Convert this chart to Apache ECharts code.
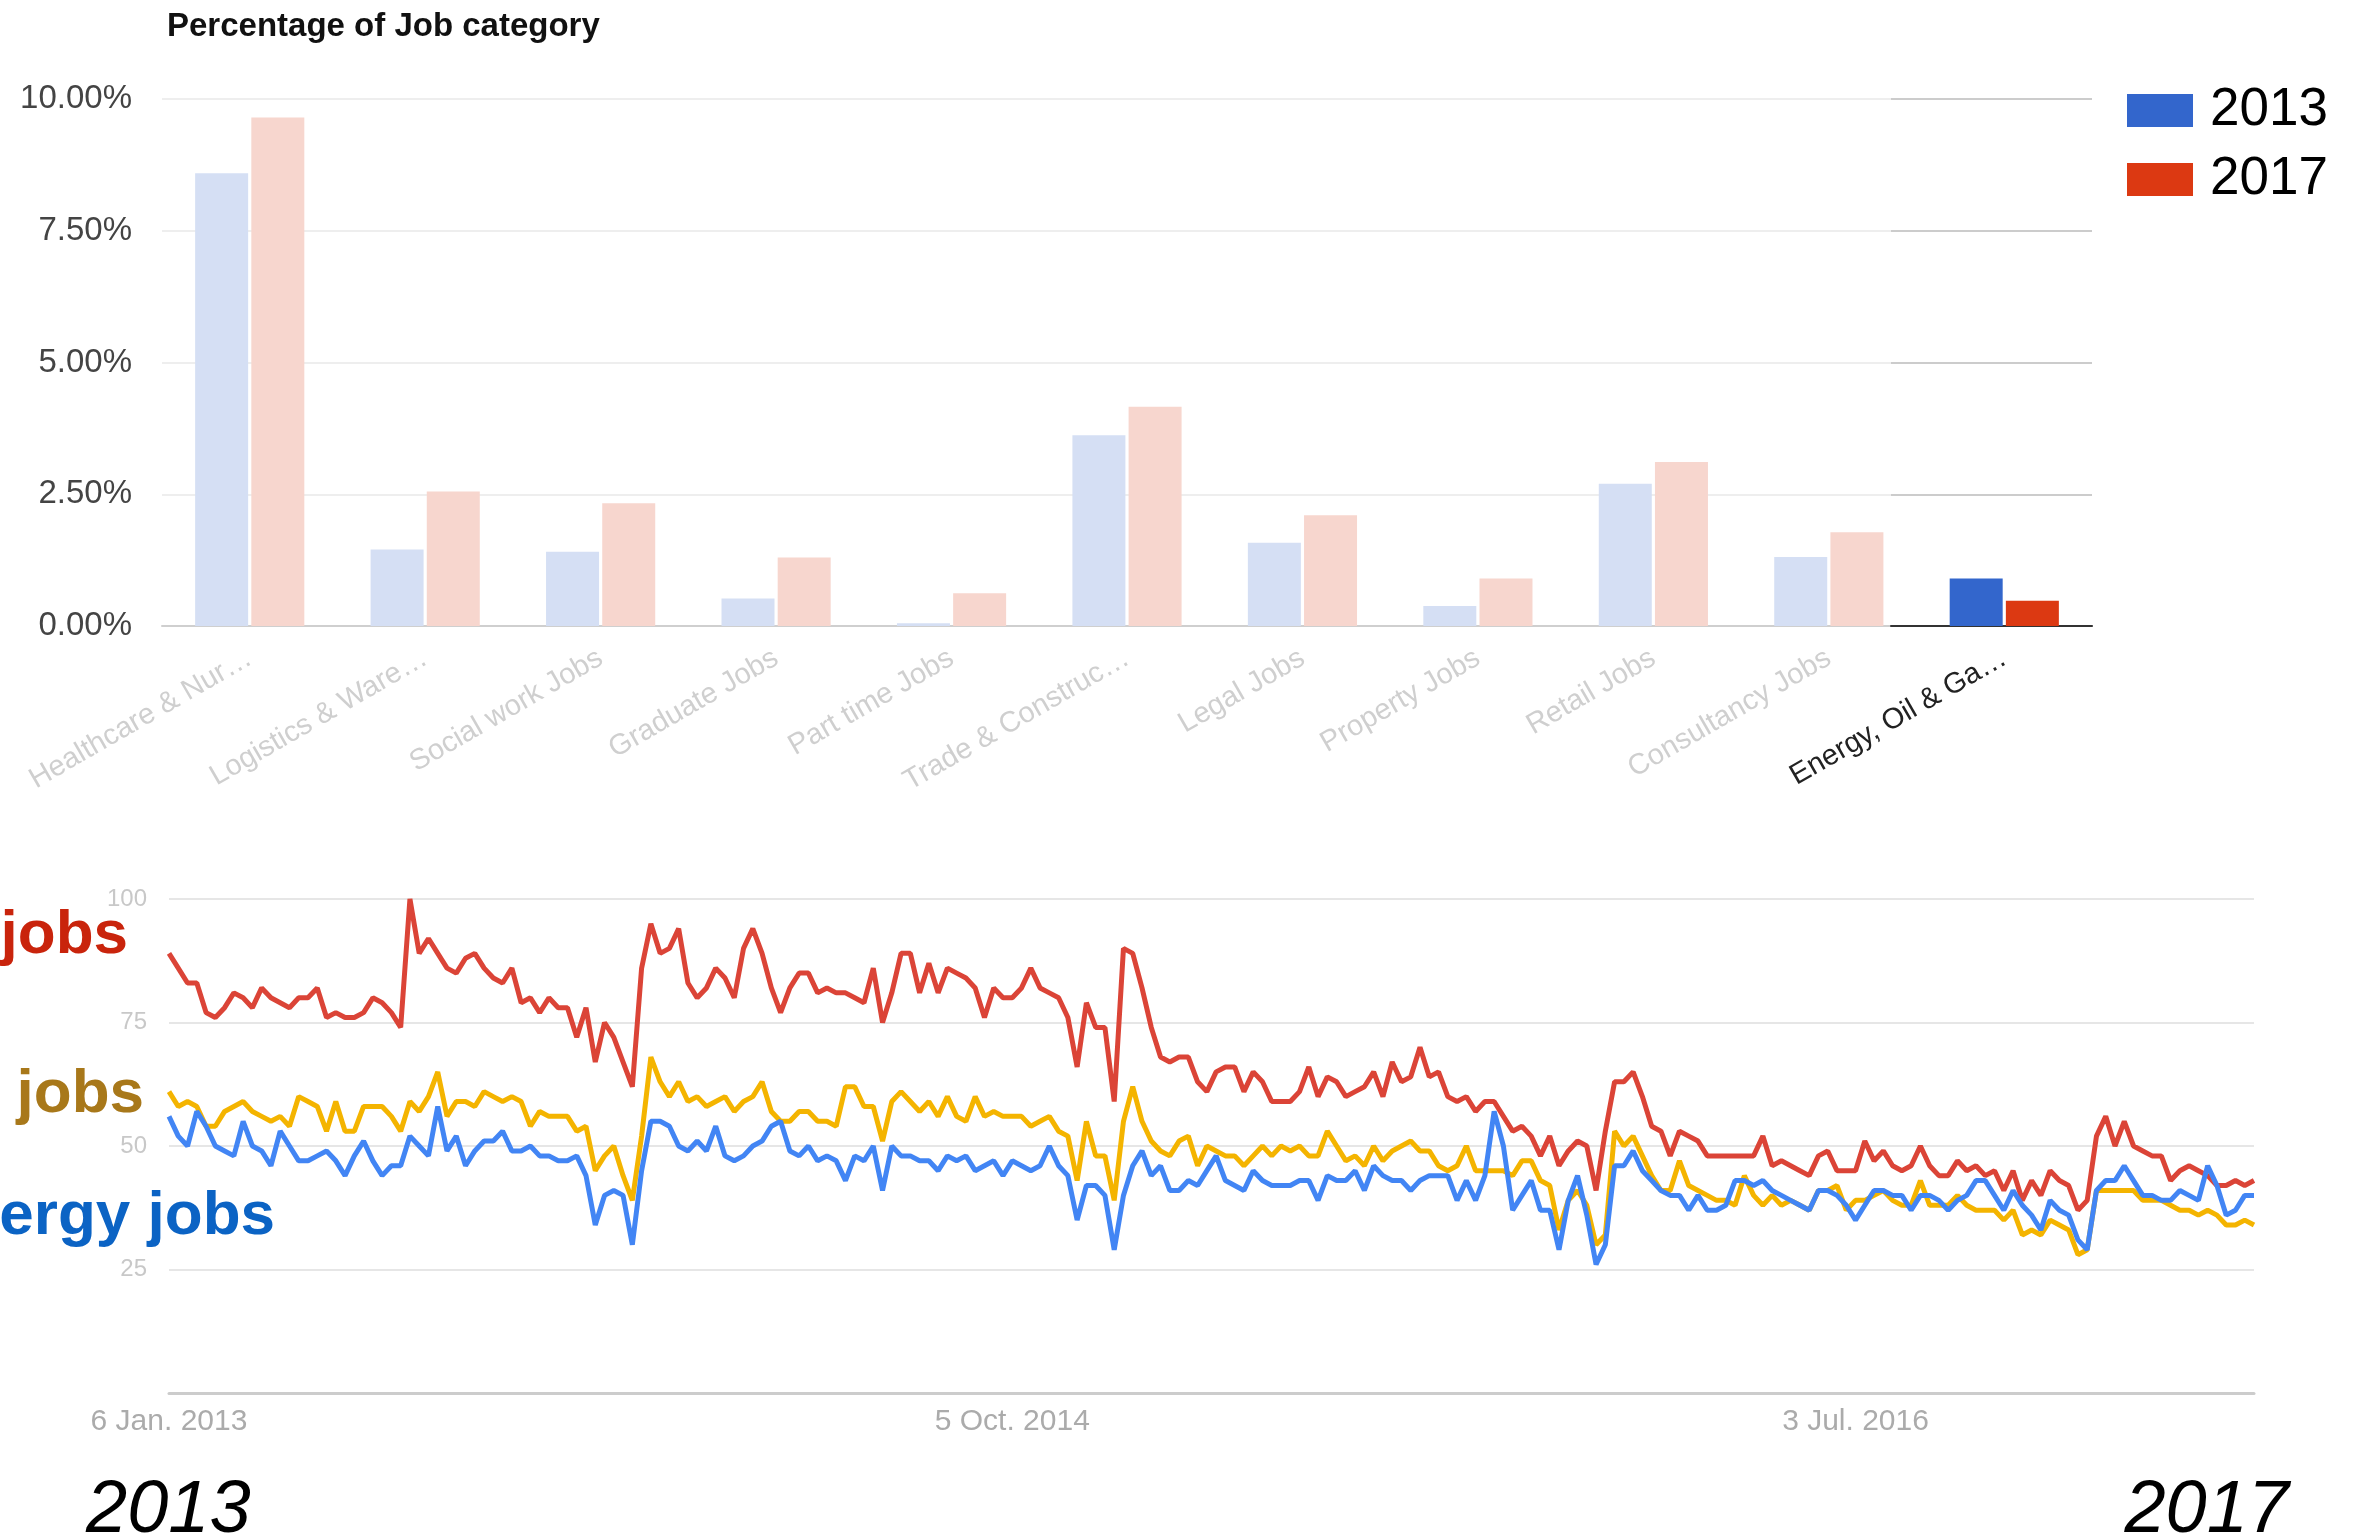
<!DOCTYPE html>
<html>
<head>
<meta charset="utf-8">
<title>Job categories</title>
<script src="https://cdn.jsdelivr.net/npm/echarts@6/dist/echarts.min.js"></script>
<style>
  html, body { margin: 0; padding: 0; background: #fff; }
  #chart { width: 2358px; height: 1533px; }
</style>
</head>
<body>
<div id="chart"></div>
<script>
// --- bar chart data (percent of job category) ---
const categories = ['Healthcare & Nur…', 'Logistics & Ware…', 'Social work Jobs', 'Graduate Jobs',
  'Part time Jobs', 'Trade & Construc…', 'Legal Jobs', 'Property Jobs', 'Retail Jobs',
  'Consultancy Jobs', 'Energy, Oil & Ga…']
const share2013 = [8.59, 1.45, 1.41, 0.52, 0.05, 3.62, 1.58, 0.38, 2.70, 1.31, 0.90]
const share2017 = [9.65, 2.55, 2.33, 1.30, 0.62, 4.16, 2.10, 0.90, 3.11, 1.78, 0.48]
const focusIndex = 10

// --- weekly search interest, from 6 Jan 2013 ---
const trendStart = '2013-01-06'
const tickLabels = { 0: '6 Jan. 2013', 91: '5 Oct. 2014', 182: '3 Jul. 2016' }

const redJobs = [
  89, 86, 83, 83, 77, 76, 78, 81, 80, 78,
  82, 80, 79, 78, 80, 80, 82, 76, 77, 76,
  76, 77, 80, 79, 77, 74, 100, 89, 92, 89,
  86, 85, 88, 89, 86, 84, 83, 86, 79, 80,
  77, 80, 78, 78, 72, 78, 67, 75, 72, 67,
  62, 86, 95, 89, 90, 94, 83, 80, 82, 86,
  84, 80, 90, 94, 89, 82, 77, 82, 85, 85,
  81, 82, 81, 81, 80, 79, 86, 75, 81, 89,
  89, 81, 87, 81, 86, 85, 84, 82, 76, 82,
  80, 80, 82, 86, 82, 81, 80, 76, 66, 79,
  74, 74, 59, 90, 89, 82, 74, 68, 67, 68,
  68, 63, 61, 65, 66, 66, 61, 65, 63, 59,
  59, 59, 61, 66, 60, 64, 63, 60, 61, 62,
  65, 60, 67, 63, 64, 70, 64, 65, 60, 59,
  60, 57, 59, 59, 56, 53, 54, 52, 48, 52,
  46, 49, 51, 50, 41, 53, 63, 63, 65, 60,
  54, 53, 48, 53, 52, 51, 48, 48, 48, 48,
  48, 48, 52, 46, 47, 46, 45, 44, 48, 49,
  45, 45, 45, 51, 47, 49, 46, 45, 46, 50,
  46, 44, 44, 47, 45, 46, 44, 45, 41, 45,
  39, 43, 40, 45, 43, 42, 37, 39, 52, 56,
  50, 55, 50, 49, 48, 48, 43, 45, 46, 45,
  44, 42, 42, 43, 42, 43
]
const yellowJobs = [
  61, 58, 59, 58, 54, 54, 57, 58, 59, 57,
  56, 55, 56, 54, 60, 59, 58, 53, 59, 53,
  53, 58, 58, 58, 56, 53, 59, 57, 60, 65,
  56, 59, 59, 58, 61, 60, 59, 60, 59, 54,
  57, 56, 56, 56, 53, 54, 45, 48, 50, 44,
  39, 52, 68, 63, 60, 63, 59, 60, 58, 59,
  60, 57, 59, 60, 63, 57, 55, 55, 57, 57,
  55, 55, 54, 62, 62, 58, 58, 51, 59, 61,
  59, 57, 59, 56, 60, 56, 55, 60, 56, 57,
  56, 56, 56, 54, 55, 56, 53, 52, 43, 55,
  48, 48, 39, 55, 62, 55, 51, 49, 48, 51,
  52, 46, 50, 49, 48, 48, 46, 48, 50, 48,
  50, 49, 50, 48, 48, 53, 50, 47, 48, 46,
  50, 47, 49, 50, 51, 49, 49, 46, 45, 46,
  50, 45, 45, 45, 45, 44, 47, 47, 43, 42,
  33, 39, 41, 38, 30, 32, 53, 50, 52, 48,
  44, 41, 41, 47, 42, 41, 40, 39, 39, 38,
  44, 40, 38, 40, 38, 39, 38, 37, 41, 41,
  42, 37, 39, 39, 40, 41, 39, 38, 38, 43,
  38, 38, 38, 40, 38, 37, 37, 37, 35, 37,
  32, 33, 32, 35, 34, 33, 28, 29, 41, 41,
  41, 41, 41, 39, 39, 39, 38, 37, 37, 36,
  37, 36, 34, 34, 35, 34
]
const blueJobs = [
  56, 52, 50, 57, 54, 50, 49, 48, 55, 50,
  49, 46, 53, 50, 47, 47, 48, 49, 47, 44,
  48, 51, 47, 44, 46, 46, 52, 50, 48, 58,
  49, 52, 46, 49, 51, 51, 53, 49, 49, 50,
  48, 48, 47, 47, 48, 44, 34, 40, 41, 40,
  30, 45, 55, 55, 54, 50, 49, 51, 49, 54,
  48, 47, 48, 50, 51, 54, 55, 49, 48, 50,
  47, 48, 47, 43, 48, 47, 50, 41, 50, 48,
  48, 47, 47, 45, 48, 47, 48, 45, 46, 47,
  44, 47, 46, 45, 46, 50, 46, 44, 35, 42,
  42, 40, 29, 40, 46, 49, 44, 46, 41, 41,
  43, 42, 45, 48, 43, 42, 41, 45, 43, 42,
  42, 42, 43, 43, 39, 44, 43, 43, 45, 41,
  46, 44, 43, 43, 41, 43, 44, 44, 44, 39,
  43, 39, 44, 57, 50, 37, 40, 43, 37, 37,
  29, 39, 44, 36, 26, 30, 46, 46, 49, 45,
  43, 41, 40, 40, 37, 40, 37, 37, 38, 43,
  43, 42, 43, 41, 40, 39, 38, 37, 41, 41,
  40, 38, 35, 38, 41, 41, 40, 40, 37, 40,
  40, 39, 37, 39, 40, 43, 43, 40, 37, 41,
  38, 36, 33, 39, 37, 36, 31, 29, 41, 43,
  43, 46, 43, 40, 40, 39, 39, 41, 40, 39,
  46, 42, 36, 37, 40, 40
]

// week categories for the trend axis
const weeks = []
const d0 = new Date(trendStart + 'T00:00:00Z')
for (let i = 0; i < redJobs.length; i++) {
  weeks.push(new Date(d0.getTime() + i * 7 * 86400000).toISOString().slice(0, 10))
}

const FONT = "'Liberation Sans', Arial, sans-serif"
const fadedBlue = '#d5dff4'
const fadedRed = '#f7d6ce'

const chart = echarts.init(document.getElementById('chart'))

chart.setOption({
  animation: false,
  textStyle: { fontFamily: FONT },
  title: {
    text: 'Percentage of Job category',
    left: 167,
    top: 10,
    padding: 0,
    textStyle: { fontSize: 33, fontWeight: 'bold', color: '#111', fontFamily: FONT }
  },
  legend: {
    data: ['2013', '2017'],
    orient: 'vertical',
    left: 2127,
    top: 84,
    padding: 0,
    icon: 'rect',
    itemWidth: 66,
    itemHeight: 33,
    itemGap: 16,
    textStyle: { fontSize: 53, color: '#000', fontFamily: FONT, padding: [0, 0, 0, 12] }
  },
  grid: [
    { left: 162, top: 99, width: 1930, height: 527 },
    { left: 1891, top: 99, width: 201, height: 527 },
    { left: 169, top: 899, width: 2085, height: 494 }
  ],
  xAxis: [
    {
      type: 'category',
      gridIndex: 0,
      data: categories,
      axisLine: { lineStyle: { color: '#cfcfcf', width: 2 } },
      axisTick: { show: false },
      axisLabel: {
        rotate: 30,
        interval: 0,
        margin: 30,
        fontSize: 29,
        color: (v, i) => (i === focusIndex ? '#222' : '#cfcfcf')
      }
    },
    {
      type: 'category',
      gridIndex: 1,
      data: [''],
      axisLine: { lineStyle: { color: '#333', width: 2 } },
      axisTick: { show: false },
      axisLabel: { show: false }
    },
    {
      type: 'category',
      gridIndex: 2,
      data: weeks,
      boundaryGap: false,
      axisLine: { lineStyle: { color: '#cccccc', width: 3 } },
      axisTick: { show: false },
      axisLabel: {
        interval: (i) => i in tickLabels,
        formatter: (v, i) => tickLabels[i] || '',
        margin: 14,
        fontSize: 30,
        color: '#ababab'
      }
    }
  ],
  yAxis: [
    {
      type: 'value',
      gridIndex: 0,
      min: 0,
      max: 10,
      interval: 2.5,
      axisLine: { show: false },
      axisTick: { show: false },
      axisLabel: {
        formatter: (v) => v.toFixed(2) + '%',
        fontSize: 33,
        color: '#444',
        margin: 30
      },
      splitLine: { lineStyle: { color: '#eeeeee', width: 2 } }
    },
    {
      type: 'value',
      gridIndex: 1,
      min: 0,
      max: 10,
      interval: 2.5,
      axisLine: { show: false },
      axisTick: { show: false },
      axisLabel: { show: false },
      splitLine: { lineStyle: { color: '#cccccc', width: 2 } }
    },
    {
      type: 'value',
      gridIndex: 2,
      min: 0,
      max: 100,
      interval: 25,
      axisLine: { show: false },
      axisTick: { show: false },
      axisLabel: { showMinLabel: false, fontSize: 24, color: '#c8c8c8', margin: 22 },
      splitLine: { lineStyle: { color: '#e6e6e6', width: 2 } }
    }
  ],
  series: [
    {
      name: '2013',
      type: 'bar',
      xAxisIndex: 0,
      yAxisIndex: 0,
      barWidth: 53,
      barGap: '6%',
      itemStyle: { color: '#3366cc' },
      data: share2013.map((v, i) => ({ value: v, itemStyle: { color: i === focusIndex ? '#3366cc' : fadedBlue } }))
    },
    {
      name: '2017',
      type: 'bar',
      xAxisIndex: 0,
      yAxisIndex: 0,
      barWidth: 53,
      barGap: '6%',
      itemStyle: { color: '#dc3912' },
      data: share2017.map((v, i) => ({ value: v, itemStyle: { color: i === focusIndex ? '#dc3912' : fadedRed } }))
    },
    {
      name: 'yellow',
      type: 'line',
      xAxisIndex: 2,
      yAxisIndex: 2,
      showSymbol: false,
      lineStyle: { color: '#f4b400', width: 5 },
      data: yellowJobs
    },
    {
      name: 'red',
      type: 'line',
      xAxisIndex: 2,
      yAxisIndex: 2,
      showSymbol: false,
      lineStyle: { color: '#db4437', width: 5 },
      data: redJobs
    },
    {
      name: 'blue',
      type: 'line',
      xAxisIndex: 2,
      yAxisIndex: 2,
      showSymbol: false,
      lineStyle: { color: '#4285f4', width: 5 },
      data: blueJobs
    }
  ],
  graphic: [
    { type: 'text', x: 128, y: 936, style: { text: 'jobs', align: 'right', verticalAlign: 'middle', font: 'bold 62px ' + FONT, fill: '#c9240c' } },
    { type: 'text', x: 144, y: 1095, style: { text: 'jobs', align: 'right', verticalAlign: 'middle', font: 'bold 62px ' + FONT, fill: '#a8781a' } },
    { type: 'text', x: 275, y: 1217, style: { text: 'Energy jobs', align: 'right', verticalAlign: 'middle', font: 'bold 62px ' + FONT, fill: '#0b63c4' } },
    { type: 'text', x: 86, y: 1511, style: { text: '2013', align: 'left', verticalAlign: 'middle', font: 'italic 74px ' + FONT, fill: '#000' } },
    { type: 'text', x: 2289, y: 1511, style: { text: '2017', align: 'right', verticalAlign: 'middle', font: 'italic 74px ' + FONT, fill: '#000' } }
  ]
})

window.addEventListener('resize', () => chart.resize())
</script>
</body>
</html>
